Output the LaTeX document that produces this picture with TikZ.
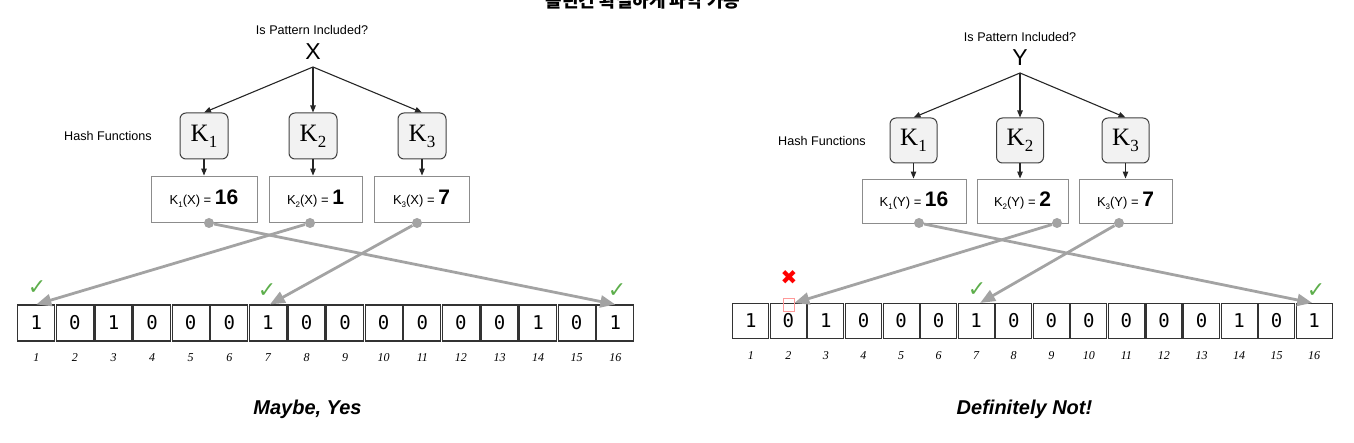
\documentclass[tikz,border=0pt]{standalone}
\usepackage{fontspec}
\setmainfont{Liberation Sans}
\newfontfamily\serifK{Liberation Serif}
\newfontfamily\monoD{DejaVu Sans Mono}
\newfontfamily\symD{DejaVu Sans}
\newfontfamily\krfont{Noto Sans CJK KR}
\usetikzlibrary{arrows.meta,calc}
\definecolor{chkgreen}{HTML}{5DAE4B}
\definecolor{linegray}{HTML}{A3A3A3}
\definecolor{kfill}{HTML}{F2F2F2}
\tikzset{
  kbox/.style={draw=black!75, fill=kfill, rounded corners=6pt, minimum width=48pt, minimum height=46pt, line width=1pt, inner sep=0pt},
  hbox/.style={draw=black!45, fill=white, minimum height=46pt, line width=0.9pt, inner sep=0pt},
  cellbox/.style={draw=black!80, line width=1.1pt, minimum width=37pt, minimum height=36pt, inner sep=0pt, font=\monoD\fontsize{19}{19}\selectfont},
  idx/.style={font=\serifK\itshape\fontsize{12}{12}\selectfont},
  blk/.style={-{Triangle[length=7pt,width=5.5pt]}, line width=1.1pt, draw=black!85},
  gry/.style={-{Triangle[length=15pt,width=12pt]}, line width=2.8pt, draw=linegray},
  hdot/.style={circle, fill=linegray, minimum size=10pt, inner sep=0pt},
  chk/.style={text=chkgreen, font=\symD\fontsize{22}{22}\selectfont, inner sep=0pt},
  small/.style={font=\fontsize{12.6}{12.6}\selectfont, inner sep=0pt},
  bigletter/.style={font=\fontsize{23}{23}\selectfont, inner sep=0pt},
  verdict/.style={font=\bfseries\itshape\fontsize{20}{20}\selectfont, inner sep=0pt}
}
\newcommand{\Klab}[1]{{\serifK\fontsize{25}{25}\selectfont K\raisebox{-6pt}{\fontsize{17}{17}\selectfont #1}}}
\newcommand{\Hlab}[3]{{\fontsize{13}{13}\selectfont K\raisebox{-3pt}{\fontsize{8}{8}\selectfont #1}(#2) = }{\fontsize{21}{21}\selectfont\bfseries #3}}
\begin{document}
\begin{tikzpicture}[x=1pt,y=-1pt]
\useasboundingbox (0,0) rectangle (1354,443);
\path[clip] (0,0) rectangle (1354,443);
% title, cut off at the top edge as in the reference
\node[anchor=base, font=\krfont\bfseries\fontsize{18}{18}\selectfont, inner sep=0pt] (kt) at (643,8) {틀린건 확실하게 파악 가능};

% ================= LEFT =================
\node[small] (qL) at (312,30) {Is Pattern Included?};
\node[bigletter] (xL) at (313,52) {X};
\coordinate (fL) at (313,67);
\node[small] (hfL) at (108,136) {Hash Functions};
\node[kbox] (kL1) at (204,136) {\Klab{1}};
\node[kbox] (kL2) at (313,136) {\Klab{2}};
\node[kbox] (kL3) at (422,136) {\Klab{3}};
\node[hbox, minimum width=106pt] (hL1) at (204,199) {\Hlab{1}{X}{16}};
\node[hbox, minimum width=93pt] (hL2) at (315.5,199) {\Hlab{2}{X}{1}};
\node[hbox, minimum width=95pt] (hL3) at (421.5,199) {\Hlab{3}{X}{7}};
\draw[blk] (fL) -- (kL1.north);
\draw[blk] (fL) -- (kL2.north);
\draw[blk] (fL) -- (kL3.north);
\draw[blk] (kL1.south) -- (kL1.south |- hL1.north);
\draw[blk] (kL2.south) -- (kL2.south |- hL2.north);
\draw[blk] (kL3.south) -- (kL3.south |- hL3.north);
\foreach \i/\v in {1/1,2/0,3/1,4/0,5/0,6/0,7/1,8/0,9/0,10/0,11/0,12/0,13/0,14/1,15/0,16/1}{
  \node[cellbox] (L\i) at ({36.3+38.6*(\i-1)},323) {\v};
  \node[idx] (nL\i) at ({36.3+38.6*(\i-1)},358) {\i};
}
\node[hdot] (dL1) at (209,223) {};
\node[hdot] (dL2) at (310,223) {};
\node[hdot] (dL3) at (417,223) {};
\draw[gry] (dL2) -- (L1.north);
\draw[gry] (dL3) -- ($(L7.north)+(2,0)$);
\draw[gry] (dL1) -- (L16.north);
\node[chk] (cL1) at (37,288) {✓};
\node[chk] (cL7) at (267,291) {✓};
\node[chk] (cL16) at (617,291) {✓};
\node[verdict] (vL) at (307.5,409) {Maybe, Yes};

% ================= RIGHT =================
\node[small] (qR) at (1020,37) {Is Pattern Included?};
\node[bigletter] (yR) at (1020,58) {Y};
\coordinate (fR) at (1020,73);
\node[small] (hfR) at (822,141) {Hash Functions};
\node[kbox, minimum width=47pt, minimum height=45pt] (kR1) at (913.5,140.5) {\Klab{1}};
\node[kbox, minimum width=47pt, minimum height=45pt] (kR2) at (1020,140.5) {\Klab{2}};
\node[kbox, minimum width=47pt, minimum height=45pt] (kR3) at (1125.5,140.5) {\Klab{3}};
\node[hbox, minimum width=104pt, minimum height=44pt] (hR1) at (914,201) {\Hlab{1}{Y}{16}};
\node[hbox, minimum width=91pt, minimum height=44pt] (hR2) at (1022.5,201) {\Hlab{2}{Y}{2}};
\node[hbox, minimum width=93pt, minimum height=44pt] (hR3) at (1125.5,201) {\Hlab{3}{Y}{7}};
\draw[blk] (fR) -- (kR1.north);
\draw[blk] (fR) -- (kR2.north);
\draw[blk] (fR) -- (kR3.north);
\draw[blk] (kR1.south) -- (kR1.south |- hR1.north);
\draw[blk] (kR2.south) -- (kR2.south |- hR2.north);
\draw[blk] (kR3.south) -- (kR3.south |- hR3.north);
\foreach \i/\v in {1/1,2/0,3/1,4/0,5/0,6/0,7/1,8/0,9/0,10/0,11/0,12/0,13/0,14/1,15/0,16/1}{
  \node[cellbox, minimum width=36pt, minimum height=35pt] (R\i) at ({750.8+37.56*(\i-1)},321) {\v};
  \node[idx] (nR\i) at ({750.8+37.56*(\i-1)},356) {\i};
}
\node[draw=red!40, line width=0.8pt, minimum width=11pt, minimum height=13pt, inner sep=0pt] (sq) at (788.5,305) {};
\node[hdot] (dR1) at (919,223) {};
\node[hdot] (dR2) at (1057,223) {};
\node[hdot] (dR3) at (1119,223) {};
\coordinate (tR2) at ($(R2.north)+(6,0)$);
\draw[gry] (dR2) -- (tR2);
\draw[gry] (dR3) -- ($(R7.north)+(4,0)$);
\draw[gry] (dR1) -- ($(R16.north)+(-2,0)$);
\node[text=red, font=\symD\fontsize{20}{20}\selectfont, inner sep=0pt] (xR2) at (789,278) {✖};
\node[chk] (cR7) at (977,290) {✓};
\node[chk] (cR16) at (1316,291) {✓};
\node[verdict] (vR) at (1024.5,409) {Definitely Not!};
\end{tikzpicture}
\end{document}
